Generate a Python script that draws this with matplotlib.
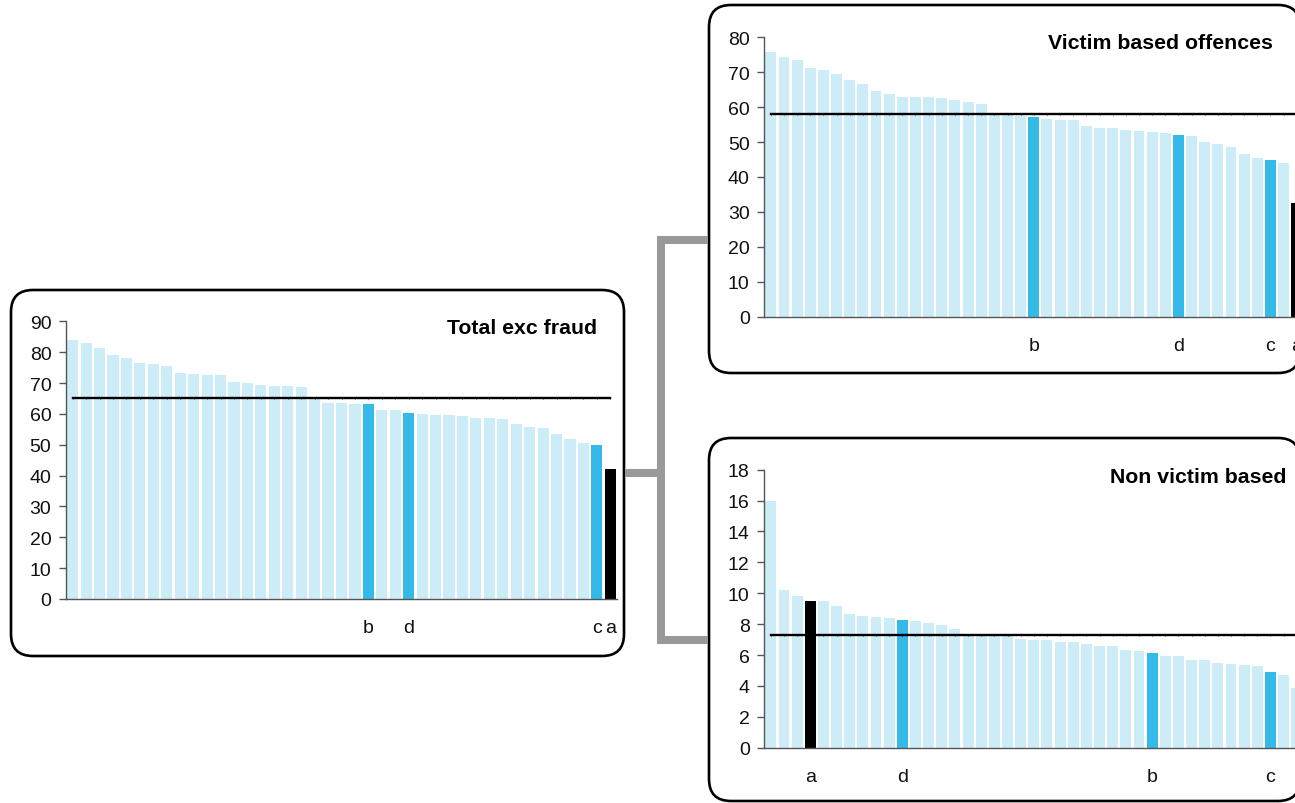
import matplotlib
matplotlib.use("Agg")
import matplotlib.pyplot as plt
from matplotlib.patches import FancyBboxPatch
from matplotlib.lines import Line2D

plt.rcParams['font.family'] = ['Liberation Sans', 'DejaVu Sans']

# ---------------- data ----------------
total_title = "Total exc fraud"
total_values = [83.9, 82.9, 81.3, 79.0, 78.1, 76.5, 76.1, 75.5, 73.2, 72.9,
                72.6, 72.6, 70.3, 70.0, 69.3, 69.0, 69.0, 68.7, 64.8, 63.5,
                63.5, 63.2, 63.2, 61.2, 61.2, 60.3, 59.9, 59.6, 59.6, 59.3,
                58.6, 58.6, 58.3, 56.7, 55.8, 55.4, 53.5, 51.8, 50.5, 49.9,
                42.1]
total_labels = ["" for _ in total_values]
total_labels[22] = "b"; total_labels[25] = "d"; total_labels[39] = "c"; total_labels[40] = "a"
total_average = 65.1
total_yticks = list(range(0, 91, 10))

victim_title = "Victim based offences"
victim_values = [75.8, 74.4, 73.5, 71.2, 70.6, 69.5, 67.8, 66.6, 64.6, 63.8,
                 62.9, 62.9, 62.9, 62.6, 62.1, 61.5, 60.9, 57.9, 57.8, 57.5,
                 57.2, 56.6, 56.3, 56.3, 54.6, 54.0, 54.0, 53.5, 53.2, 52.9,
                 52.6, 52.0, 51.7, 50.0, 49.5, 48.6, 46.6, 45.4, 44.9, 44.0,
                 32.6]
victim_labels = ["" for _ in victim_values]
victim_labels[20] = "b"; victim_labels[31] = "d"; victim_labels[38] = "c"; victim_labels[40] = "a"
victim_average = 58.0
victim_yticks = list(range(0, 81, 10))

nonvictim_title = "Non victim based"
nonvictim_values = [16.0, 10.2, 9.8, 9.5, 9.5, 9.17, 8.66, 8.53, 8.46, 8.40,
                    8.27, 8.20, 8.07, 7.94, 7.68, 7.28, 7.25, 7.24, 7.22, 7.04,
                    6.97, 6.97, 6.84, 6.84, 6.71, 6.58, 6.58, 6.32, 6.26, 6.13,
                    5.94, 5.94, 5.68, 5.68, 5.48, 5.42, 5.35, 5.29, 4.90, 4.71,
                    3.86]
nonvictim_labels = ["" for _ in nonvictim_values]
nonvictim_labels[3] = "a"; nonvictim_labels[10] = "d"; nonvictim_labels[29] = "b"; nonvictim_labels[38] = "c"
nonvictim_average = 7.3
nonvictim_yticks = list(range(0, 19, 2))

# ---------------- style ----------------
LIGHT = "#CCECF8"
BLUE = "#34BAE8"
BLACK = "#000000"
GREY = "#999999"
W, H = 1295, 804

fig = plt.figure(figsize=(W / 100, H / 100), dpi=100)

# overlay for boxes and connectors (pixel coordinates)
ov = fig.add_axes([0, 0, 1, 1], zorder=-1)
ov.set_xlim(0, W)
ov.set_ylim(H, 0)
ov.axis("off")

def box(x0, y0, x1, y1):
    ov.add_patch(FancyBboxPatch((x0, y0), x1 - x0, y1 - y0,
                                boxstyle="round,pad=0,rounding_size=22",
                                fc="white", ec="black", lw=1.9))

box(11, 291, 624, 657)
box(709, 6, 1300, 374)
box(709, 439, 1300, 802)

ov.add_line(Line2D([625, 661], [474, 474], color=GREY, lw=5.8, solid_capstyle="butt"))
ov.add_line(Line2D([708, 661, 661, 708], [240.5, 240.5, 641, 641], color=GREY, lw=5.8,
                   solid_capstyle="butt", solid_joinstyle="miter"))


def px_axes(x0, x1, ytop, ybot):
    return fig.add_axes([x0 / W, (H - ybot) / H, (x1 - x0) / W, (ybot - ytop) / H])


def panel(ax, values, labels, avg, yticks):
    n = len(values)
    xs = list(range(n))
    colors = []
    for lab in labels:
        if lab == "a":
            colors.append(BLACK)
        elif lab:
            colors.append(BLUE)
        else:
            colors.append(LIGHT)
    ax.bar(xs, values, width=0.83, color=colors, zorder=2)
    ax.plot(xs, [avg] * n, color="black", lw=1.7, marker="|", ms=1.6, mew=0.6,
            zorder=3)
    ax.set_xlim(-0.5, n - 0.5)
    ax.set_ylim(yticks[0], yticks[-1])
    ax.set_yticks(yticks)
    ax.set_xticks([i for i, l in enumerate(labels) if l],
                  [l for l in labels if l])
    ax.tick_params(axis="x", length=0, pad=14.5, labelsize=14, colors="#111111")
    ax.tick_params(axis="y", length=5, width=1, direction="out", pad=5.5,
                   labelsize=14, colors="#555555", labelcolor="#111111")
    for s in ("top", "right"):
        ax.spines[s].set_visible(False)
    for s in ("left", "bottom"):
        ax.spines[s].set_color("#555555")
        ax.spines[s].set_linewidth(1.0)
    ax.spines["bottom"].set_zorder(4)
    ax.set_facecolor("none")


ax1 = px_axes(66, 617, 322.3, 600)
panel(ax1, total_values, total_labels, total_average, total_yticks)

ax2 = px_axes(764.3, 1303.3, 38.3, 317.7)
panel(ax2, victim_values, victim_labels, victim_average, victim_yticks)

ax3 = px_axes(764.3, 1303.3, 470.7, 748.7)
panel(ax3, nonvictim_values, nonvictim_labels, nonvictim_average, nonvictim_yticks)

fig.text(597 / W, 1 - 334 / H, total_title, ha="right", va="baseline",
         fontsize=15.3, fontweight="bold")
fig.text(1273 / W, 1 - 49.3 / H, victim_title, ha="right", va="baseline",
         fontsize=15.3, fontweight="bold")
fig.text(1287 / W, 1 - 482.7 / H, nonvictim_title, ha="right", va="baseline",
         fontsize=15.3, fontweight="bold")

fig.savefig("out.png", dpi=100)
